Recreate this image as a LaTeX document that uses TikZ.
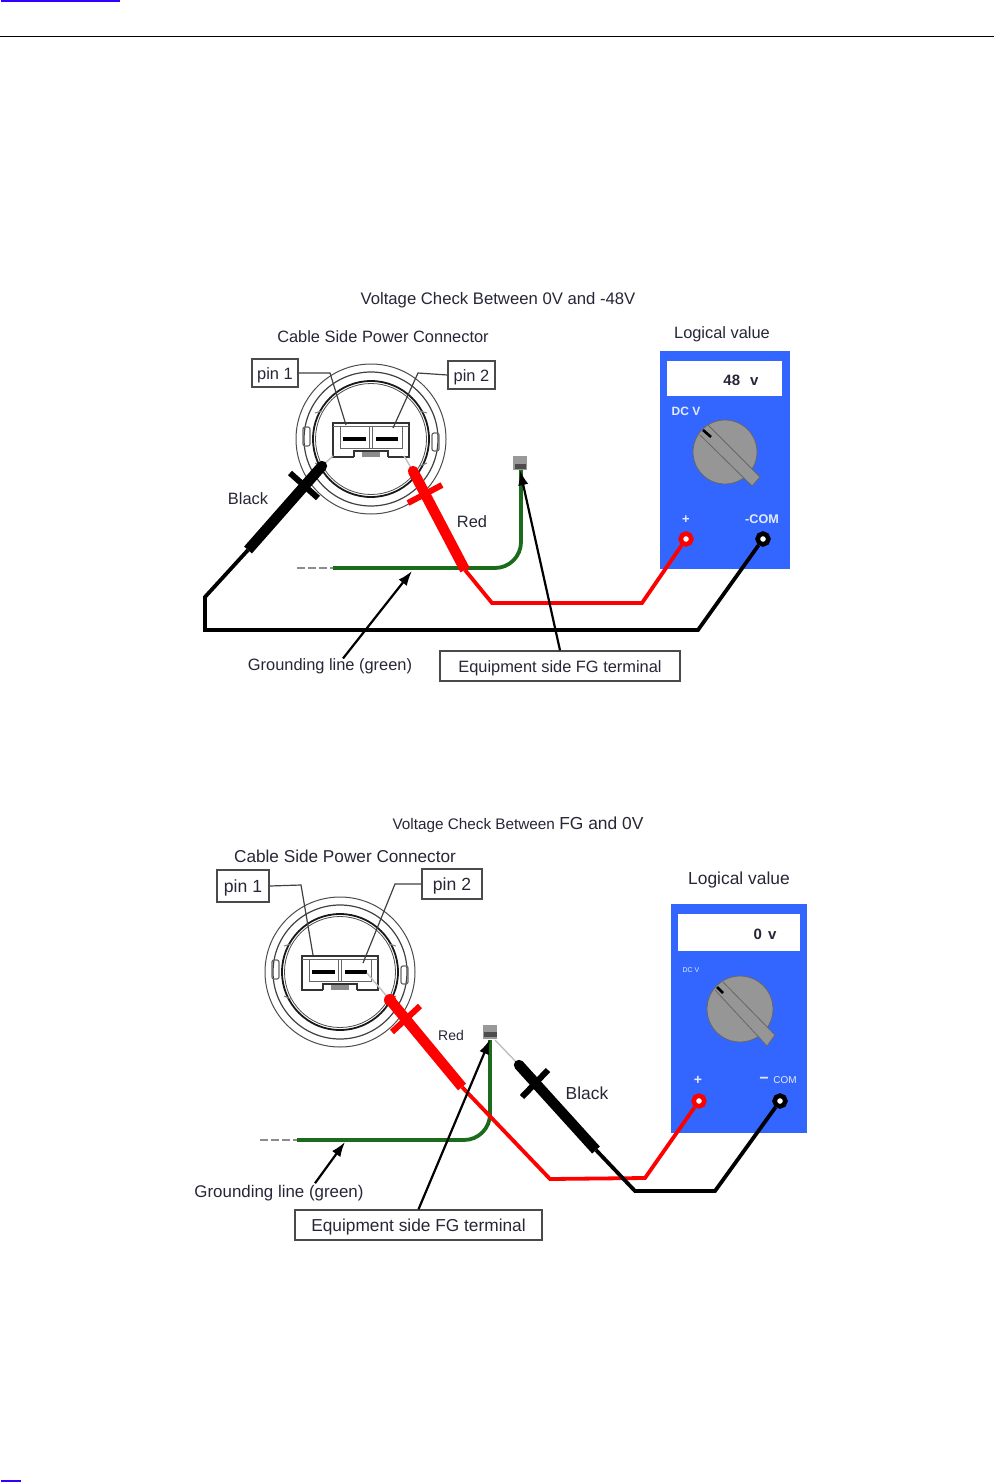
\documentclass[tikz,border=0pt]{standalone}
\usepackage{fontspec}
\setmainfont{Liberation Sans}
\usetikzlibrary{arrows.meta,positioning,calc}
\definecolor{meterBlue}{HTML}{3366FF}
\definecolor{knobGray}{HTML}{969696}
\definecolor{inkGray}{HTML}{262636}
\definecolor{lineGray}{HTML}{4A4A4A}
\definecolor{groundGreen}{HTML}{1C6A1C}
\definecolor{linkBlue}{HTML}{3300FF}
\definecolor{faceWhite}{HTML}{E4EAFF}
\tikzset{
  lbl/.style={text=inkGray,inner sep=0pt,font=\fontsize{#1}{10}\selectfont},
  lbl/.default=8.2,
  pinbox/.style={draw=lineGray,line width=0.7pt,text=inkGray,inner sep=0pt,text height=7.5pt,text depth=1.5pt,font=\fontsize{#1}{10}\selectfont},
  leader/.style={draw=black!75,line width=0.6pt},
  wire/.style={line width=1.9pt,line join=miter},
  handle/.style={line width=5.2pt},
  guard/.style={line width=3pt},
  tipline/.style={draw=black!25,line width=0.7pt},
  ground/.style={draw=groundGreen,line width=1.9pt,rounded corners=13pt},
  stub/.style={draw=black!45,line width=0.8pt,dash pattern=on 4pt off 1.5pt},
  callout/.style={-{Latex[length=2.6mm,width=1.8mm]},draw=black,line width=1.1pt},
  jack/.style={circle,fill=white,draw=#1,line width=2.3pt,minimum size=5.4pt,inner sep=0pt},
  face/.style={text=faceWhite,inner sep=0pt},
}
\newcommand{\cableconn}[1]{
  \begin{scope}[shift={#1}]
    \draw[draw=black!70,line width=0.5pt] (0,0) circle (75);
    \draw[draw=black!75,line width=0.6pt] (0,0) circle (67);
    \draw[draw=black!90,line width=0.9pt] (0,0) circle (58);
    \draw[draw=black!70,line width=0.4pt] (0,0) circle (55.5);
    \draw[draw=black!60,line width=0.6pt,rounded corners=1pt] (-61,-12) rectangle (-68,7);
    \draw[draw=black!60,line width=0.6pt,rounded corners=1pt] (61,-6) rectangle (68,12);
    \draw[draw=black!50,line width=0.5pt] (-56,-26) -- (-49,-28) (56,-26) -- (49,-28) (-56,24) -- (-49,27) (56,24) -- (49,27);
    \draw[draw=black!80,line width=0.7pt] (-38,-16) rectangle (38,18);
    \fill[white] (-17,17) rectangle (17,19);
    \draw[draw=black!60,line width=0.5pt] (-38,-13) -- (38,-13) (-31,-13) -- (-31,9) -- (31,9) -- (31,-13);
    \draw[draw=black!60,line width=0.5pt] (-1.5,-13) -- (-1.5,9) (1.5,-13) -- (1.5,9);
    \draw[draw=black!80,line width=0.7pt] (-17,18) -- (-17,12) -- (17,12) -- (17,18);
    \fill[black!45] (-9,13) rectangle (9,18);
    \draw[line width=1.7pt] (-28,0) -- (-5,0) (5,0) -- (27,0);
  \end{scope}
}
\begin{document}
\begin{tikzpicture}[x=0.5pt,y=-0.5pt]
  \useasboundingbox (0,0) rectangle (994,1482);
  \fill[linkBlue] (1,0) rectangle (120,2);
  \draw[line width=0.5pt] (0,36.5) -- (994,36.5);
  \fill[linkBlue] (1,1480) rectangle (21,1482);

  % upper check
  \node[lbl=8.35] (titleA) at (498,300.5) {Voltage Check Between 0V and -48V};
  \node[lbl] (cableA) at (383,337) {Cable Side Power Connector};
  \node[lbl] (logicA) at (722,334.5) {Logical value};
  \cableconn{(371,439)}
  \node[pinbox=8.2,minimum width=23pt,minimum height=14pt] (pinOneA) at (275,373) {pin 1};
  \node[pinbox=8.2,minimum width=23.5pt,minimum height=14pt] (pinTwoA) at (471.5,375) {pin 2};
  \draw[leader] (pinOneA.east) -- (330,373) -- (346,425);
  \draw[leader] (pinTwoA.west) -- (418,373) -- (393,428);

  \node[fill=meterBlue,minimum width=65pt,minimum height=109pt,inner sep=0pt] (meterA) at (725,460) {};
  \node[fill=white,minimum width=57.5pt,minimum height=17.5pt,inner sep=0pt] (dispA) at (724.5,378.5) {};
  \node[inner sep=0pt,font=\fontsize{7.5}{9}\selectfont\bfseries,text=inkGray] (readA) at (741,380) {48\hspace{5pt}v};
  \node[face,font=\fontsize{6}{8}\selectfont\bfseries] (dcA) at (686,411) {DC V};
  \node[face,font=\fontsize{6.5}{8}\selectfont\bfseries] (plusLblA) at (686,520) {+};
  \node[face,font=\fontsize{6.3}{8}\selectfont\bfseries] (comLblA) at (762,519) {-COM};
  \draw[draw=black!60,fill=knobGray,line width=0.4pt] (725,452) circle (32);
  \draw[draw=black!60,fill=knobGray,line width=0.4pt] (708,425) -- (760,477) -- (752,486) -- (700,435);
  \draw[line width=1.3pt] (703,430) -- (711,437);

  \draw[ground] (333,568) -- (521,568) -- (521,470);
  \draw[stub] (297,568) -- (333,568);
  \node[fill=black!40,minimum size=7pt,inner sep=0pt] (fgA) at (520,463) {};
  \fill[black!70] (515,464) rectangle (526,469);

  \coordinate (blackTipA) at (322,466);
  \coordinate (blackEndA) at (248,550);
  \coordinate (redTipA) at (413,471);
  \coordinate (redEndA) at (465,570);
  \node[jack=red] (plusA) at (686,539) {};
  \node[jack=black] (comA) at (763,539) {};
  \draw[wire,red] (redEndA) -- (492,603) -- (642,603) -- (plusA);
  \draw[wire] (blackEndA) -- (205,597) -- (205,630) -- (698,630) -- (comA);
  \draw[tipline] (333,456) -- (blackTipA);
  \draw[tipline] (404,456) -- (redTipA);
  \draw[handle] (blackTipA) -- (blackEndA);
  \fill (blackTipA) circle (5.2);
  \draw[guard] (290,473) -- (318,498);
  \draw[handle,red] (redTipA) -- (redEndA);
  \fill[red] (redTipA) circle (5.2);
  \draw[guard,red] (408,503) -- (442,485);

  \node[lbl] (blackA) at (248,499) {Black};
  \node[lbl] (redA) at (472,522) {Red};
  \node[lbl] (gndA) at (330,666.5) {Grounding line (green)};
  \node[pinbox=8.2,minimum width=120pt,minimum height=15pt] (fgBoxA) at (560,666) {Equipment side FG terminal};
  \draw[callout] ($(gndA.north)+(13,0)$) -- (412,571);
  \draw[callout] (fgBoxA.north) -- (fgA.south);

  % lower check
  \node[lbl] (titleB) at (518,824.5) {\fontsize{7.65}{9}\selectfont Voltage Check Between \fontsize{8.7}{10}\selectfont FG and 0V};
  \node[lbl=8.6] (cableB) at (345,856) {Cable Side Power Connector};
  \node[lbl=8.7] (logicB) at (739,880) {Logical value};
  \cableconn{(340,972)}
  \node[pinbox=8.8,minimum width=26pt,minimum height=16pt] (pinOneB) at (243,886) {pin 1};
  \node[pinbox=8.8,minimum width=30pt,minimum height=15pt] (pinTwoB) at (452,884) {pin 2};
  \draw[leader] (pinOneB.east) -- (301,885) -- (313,955);
  \draw[leader] (pinTwoB.west) -- (395,884) -- (363,963);

  \node[fill=meterBlue,minimum width=68pt,minimum height=114.5pt,inner sep=0pt] (meterB) at (739,1018.5) {};
  \node[fill=white,minimum width=61pt,minimum height=18.5pt,inner sep=0pt] (dispB) at (739,932.5) {};
  \node[inner sep=0pt,font=\fontsize{7.5}{9}\selectfont\bfseries,text=inkGray] (readB) at (765,934) {0\hspace{3pt}v};
  \node[face,font=\fontsize{3.5}{5}\selectfont] (dcB) at (691,970) {DC V};
  \node[face,font=\fontsize{7}{8}\selectfont\bfseries] (plusLblB) at (698,1080) {+};
  \node[face,font=\fontsize{5}{7}\selectfont] (comLblB) at (785,1080) {COM};
  \node[face,font=\fontsize{8}{8}\selectfont\bfseries] (minusLblB) at (764,1080.5) {−};
  \draw[draw=black!60,fill=knobGray,line width=0.4pt] (740,1009) circle (33);
  \draw[draw=black!60,fill=knobGray,line width=0.4pt] (723,982) -- (775,1035) -- (767,1046) -- (715,990);
  \draw[line width=1.3pt] (717,987) -- (723,993);

  \draw[ground] (297,1140) -- (490,1140) -- (490,1040);
  \draw[stub] (260,1140) -- (297,1140);
  \node[fill=black!40,minimum size=7pt,inner sep=0pt] (fgB) at (490,1032) {};
  \fill[black!70] (484,1032) rectangle (497,1037);

  \coordinate (blackTipB) at (519,1065);
  \coordinate (blackEndB) at (596,1150);
  \coordinate (redTipB) at (390,1000);
  \coordinate (redEndB) at (462,1087);
  \node[jack=red] (plusB) at (699,1101) {};
  \node[jack=black] (comB) at (780,1101) {};
  \draw[wire,red] (redEndB) -- (550,1179) -- (645,1178) -- (plusB);
  \draw[wire] (blackEndB) -- (635,1191) -- (715,1191) -- (comB);
  \draw[tipline] (367,973) -- (redTipB);
  \draw[tipline] (495,1040) -- (blackTipB);
  \draw[handle,red] (redTipB) -- (redEndB);
  \fill[red] (redTipB) circle (6);
  \draw[guard,red] (392,1032) -- (420,1006);
  \draw[handle] (blackTipB) -- (blackEndB);
  \fill (blackTipB) circle (5.2);
  \draw[guard] (522,1097) -- (548,1070);

  \node[lbl=7] (redB) at (451,1035.5) {Red};
  \node[lbl=8.7] (blackB) at (587,1093) {Black};
  \node[lbl=8.45] (gndB) at (279,1193.5) {Grounding line (green)};
  \node[pinbox=8.65,minimum width=123.5pt,minimum height=15pt] (fgBoxB) at (418.5,1225) {Equipment side FG terminal};
  \draw[callout] ($(gndB.north)+(36,-2)$) -- (345,1142);
  \draw[callout] (fgBoxB.north) -- (fgB.south);
\end{tikzpicture}
\end{document}
